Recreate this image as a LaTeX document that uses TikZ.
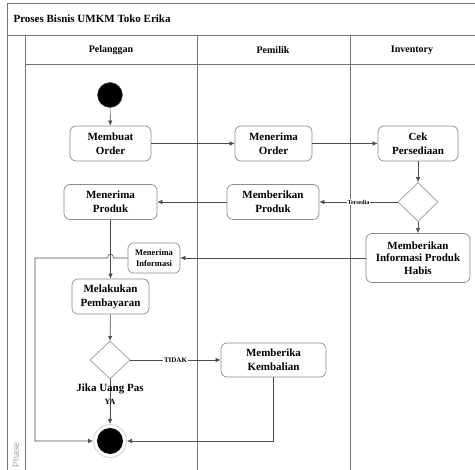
\documentclass[tikz,border=0pt]{standalone}
\usepackage{fontspec}
\setmainfont{Liberation Serif}
\setsansfont{Liberation Sans}
\usetikzlibrary{arrows.meta,shapes.geometric}
\begin{document}
\begin{tikzpicture}[x=1pt,y=-1pt,
  lane/.style={draw=black!55, line width=0.8pt},
  act/.style={draw=black!45, line width=0.7pt, rounded corners=6pt, fill=white,
    align=center, inner sep=0pt, font=\fontsize{11}{14}\selectfont\bfseries},
  smallact/.style={act, rounded corners=5pt, font=\fontsize{8.5}{11}\selectfont\bfseries},
  dec/.style={diamond, draw=black!40, line width=0.7pt, fill=white, inner sep=0pt},
  flow/.style={draw=black!70, line width=0.6pt, -{Latex[length=5pt,width=4.5pt]}},
  lbl/.style={fill=white, inner sep=1pt, font=\fontsize{7}{8}\selectfont\bfseries},
  head/.style={font=\fontsize{10}{12}\selectfont\bfseries}]
\useasboundingbox (0,0) rectangle (475,470);

% pool frame and lanes
\draw[lane] (7,470) -- (7,3) -- (475,3);
\draw[lane] (7,35) -- (475,35);
\draw[lane] (25,35) -- (25,470);
\draw[lane] (25,64) -- (475,64);
\draw[lane] (197,35) -- (197,470);
\draw[lane] (350,35) -- (350,470);

\node[anchor=west, font=\fontsize{11}{13}\selectfont\bfseries] (title) at (10,19) {Proses Bisnis UMKM Toko Erika};
\node[head] (h1) at (111,50) {Pelanggan};
\node[head] (h2) at (273,50) {Pemilik};
\node[head] (h3) at (412,50) {Inventory};
\node[rotate=90, font=\sffamily\fontsize{9}{9}\selectfont, text=black!35] (phase) at (16,455) {Phase};

% activities
\node[circle, fill=black, draw=black!70, minimum size=25pt, inner sep=0pt] (start) at (110,95) {};
\node[act, minimum width=81pt, minimum height=35pt] (order) at (110.5,143.5) {Membuat\\Order};
\node[act, minimum width=77pt, minimum height=35pt] (terima) at (273.5,143.5) {Menerima\\Order};
\node[act, minimum width=80pt, minimum height=35pt] (cek) at (418,143.5) {Cek\\Persediaan};
\node[dec, minimum width=40pt, minimum height=39pt] (d1) at (418,202) {};
\node[act, minimum width=92pt, minimum height=35pt] (beri) at (273,202) {Memberikan\\Produk};
\node[act, minimum width=93pt, minimum height=35pt] (produk) at (110.5,202) {Menerima\\Produk};
\node[act, minimum width=104pt, minimum height=49pt, font=\fontsize{11}{12.5}\selectfont\bfseries] (habis) at (418,258) {Memberikan\\Informasi Produk\\Habis};
\node[smallact, minimum width=52pt, minimum height=30pt] (info) at (154,258) {Menerima\\Informasi};
\node[act, minimum width=77pt, minimum height=35pt] (bayar) at (110.5,296.5) {Melakukan\\Pembayaran};
\node[dec, minimum width=40pt, minimum height=38pt] (d2) at (110,360) {};
\node[act, minimum width=105pt, minimum height=34pt] (kembali) at (273.5,360) {Memberika\\Kembalian};
\node[circle, draw=black!15, line width=1pt, minimum size=33pt, inner sep=0pt] (endring) at (110,441) {};
\node[circle, fill=black, minimum size=26pt, inner sep=0pt] (end) at (110,441) {};

% flows
\draw[flow] (start) -- (order);
\draw[flow] (order) -- (terima);
\draw[flow] (terima) -- (cek);
\draw[flow] (cek) -- (d1);
\draw[flow] (d1) -- node[lbl, font=\fontsize{6}{7}\selectfont\bfseries] {Tersedia} (beri);
\draw[flow] (d1) -- (habis);
\draw[flow] (beri) -- (produk);
\draw[flow] (produk) -- (bayar);
\draw[flow] (habis) -- (info);
\coordinate (turn) at (35,258);
\draw[flow] (info.west)
  -- ([xshift=3pt]produk.south |- info.west)
  .. controls ([xshift=3pt,yshift=5pt]produk.south |- info.west)
          and ([xshift=-3pt,yshift=5pt]produk.south |- info.west)
  .. ([xshift=-3pt]produk.south |- info.west)
  -- (turn) -- (turn |- endring) -- (endring.west);
\draw[flow] (bayar) -- (d2);
\draw[flow] (d2) -- node[lbl] {TIDAK} (kembali);
\draw[flow] (d2) -- (endring);
\draw[flow] (kembali) |- (endring);
\node[font=\fontsize{11}{12}\selectfont\bfseries] (jika) at (110,389) {Jika Uang Pas};
\node[font=\fontsize{8}{9}\selectfont\bfseries] (ya) at (110,402) {YA};
\end{tikzpicture}
\end{document}
